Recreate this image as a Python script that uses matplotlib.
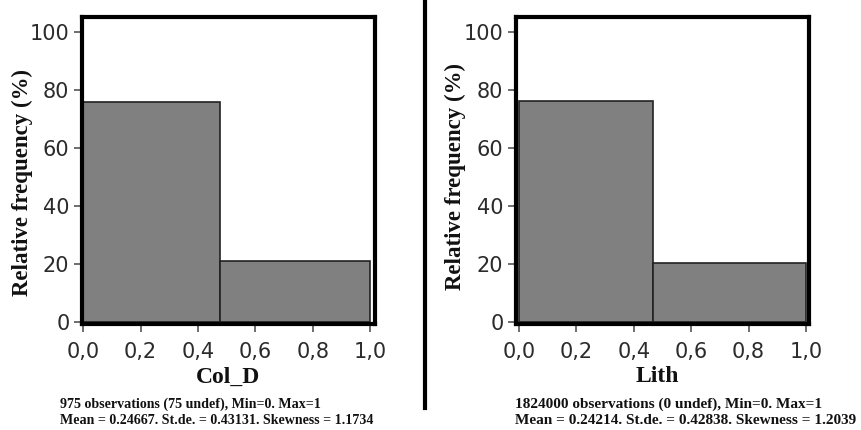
import matplotlib
matplotlib.use("Agg")
import matplotlib.pyplot as plt

W, H = 861, 430

# histogram bins
col_d_edges = [0.0, 0.477, 1.0]
col_d_freq = [75.6, 21.0]
lith_edges = [0.0, 0.467, 1.0]
lith_freq = [76.0, 20.2]

x_ticks = [0.0, 0.2, 0.4, 0.6, 0.8, 1.0]
x_ticklabels = ["0,0", "0,2", "0,4", "0,6", "0,8", "1,0"]
y_ticks = [0, 20, 40, 60, 80, 100]

panels = [
    dict(name="Col_D", edges=col_d_edges, freq=col_d_freq,
         box=(82, 17, 375, 323.5), xlim=(-0.0035, 1.0157),
         ylab_x=22, ylab_y=182, name_x=228, stats_x=60, stats_size=10.05,
         stats=["975 observations (75 undef), Min=0. Max=1",
                "Mean = 0.24667. St.de. = 0.43131. Skewness = 1.1734"]),
    dict(name="Lith", edges=lith_edges, freq=lith_freq,
         box=(516, 17, 809, 323.5), xlim=(-0.0105, 1.0105),
         ylab_x=455, ylab_y=176, name_x=657, stats_x=515, stats_size=11.0,
         stats=["1824000 observations (0 undef), Min=0. Max=1",
                "Mean = 0.24214. St.de. = 0.42838. Skewness = 1.2039"]),
]

SERIF = "Liberation Serif"
SANS = "DejaVu Sans"

fig = plt.figure(figsize=(W / 100, H / 100), dpi=100)
fig.patch.set_facecolor("white")


def fx(px):
    return px / W


def fy(py):
    return 1 - py / H


for p in panels:
    l, t, r, b = p["box"]
    ax = fig.add_axes([fx(l), fy(b), (r - l) / W, (b - t) / H])
    edges = p["edges"]
    lefts = edges[:-1]
    widths = [edges[i + 1] - edges[i] for i in range(len(edges) - 1)]
    ax.bar(lefts, p["freq"], width=widths, align="edge", color="#808080",
           edgecolor="#222222", linewidth=1.2, zorder=2)
    ax.set_xlim(*p["xlim"])
    ax.set_ylim(-0.62, 105.07)
    for s in ax.spines.values():
        s.set_linewidth(3.0)
        s.set_color("black")
    ax.set_xticks(x_ticks)
    ax.set_xticklabels(x_ticklabels)
    ax.set_yticks(y_ticks)
    ax.tick_params(direction="out", length=6, width=1.2, color="#555555",
                   labelsize=15, labelcolor="#2b2b2b", pad=3)
    ax.tick_params(axis="x", pad=7)
    for lab in ax.get_xticklabels() + ax.get_yticklabels():
        lab.set_family(SANS)

    fig.text(fx(p["ylab_x"]), fy(p["ylab_y"]), "Relative frequency (%)",
             rotation=90, ha="center", va="center", family=SERIF,
             fontweight="bold", fontsize=16.5, color="#111111")
    fig.text(fx(p["name_x"]), fy(377), p["name"], ha="center", va="center",
             family=SERIF, fontweight="bold", fontsize=17, color="#111111")
    fig.text(fx(p["stats_x"]), fy(404), p["stats"][0], ha="left", va="center",
             family=SERIF, fontweight="bold", fontsize=p["stats_size"],
             color="#111111")
    fig.text(fx(p["stats_x"]), fy(420), p["stats"][1], ha="left", va="center",
             family=SERIF, fontweight="bold", fontsize=p["stats_size"],
             color="#111111")

# separator between the two panels
fig.add_artist(plt.Line2D([fx(424.7), fx(424.7)], [fy(0), fy(408)],
                          color="black", linewidth=3.0))

fig.savefig("out.png", dpi=100, facecolor="white")
